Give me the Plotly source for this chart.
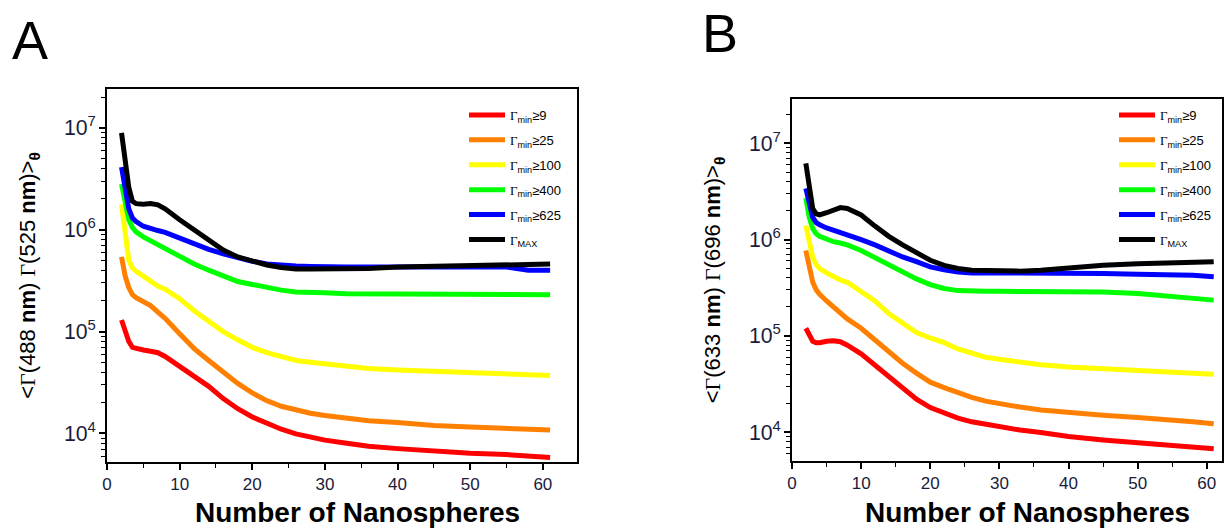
import plotly.graph_objects as go

# Number of nanospheres (common x grid)
N = [2, 2.5, 3, 3.5, 4, 5, 6, 7, 8, 10, 12, 14, 16, 18, 20, 22, 24, 26, 28, 30, 33, 36, 40, 45, 50, 55, 58, 61]

# Panel A: <Γ(488 nm) Γ(525 nm)>_θ
A_min9 = [1.3e5, 1.0e5, 8.0e4, 7.0e4, 6.8e4, 6.6e4, 6.4e4, 6.2e4, 5.7e4, 4.6e4, 3.7e4, 2.9e4, 2.2e4, 1.75e4, 1.45e4, 1.25e4, 1.1e4, 9.9e3, 9.2e3, 8.6e3, 8.0e3, 7.5e3, 7.1e3, 6.7e3, 6.4e3, 6.2e3, 6.0e3, 5.8e3]
A_min25 = [5.4e5, 3.5e5, 2.7e5, 2.3e5, 2.15e5, 1.95e5, 1.8e5, 1.55e5, 1.35e5, 9.5e4, 6.8e4, 5.2e4, 4.0e4, 3.1e4, 2.5e4, 2.1e4, 1.85e4, 1.7e4, 1.58e4, 1.5e4, 1.4e4, 1.33e4, 1.28e4, 1.2e4, 1.16e4, 1.13e4, 1.1e4, 1.08e4]
A_min100 = [1.77e6, 9.0e5, 5.0e5, 4.2e5, 3.9e5, 3.5e5, 3.1e5, 2.8e5, 2.6e5, 2.1e5, 1.6e5, 1.25e5, 1.0e5, 8.3e4, 7.0e4, 6.2e4, 5.6e4, 5.2e4, 5.0e4, 4.8e4, 4.55e4, 4.35e4, 4.2e4, 4.05e4, 3.95e4, 3.85e4, 3.75e4, 3.7e4]
A_min400 = [2.8e6, 1.8e6, 1.25e6, 1.05e6, 9.5e5, 8.5e5, 7.8e5, 7.2e5, 6.5e5, 5.5e5, 4.6e5, 4.0e5, 3.5e5, 3.1e5, 2.9e5, 2.7e5, 2.55e5, 2.45e5, 2.4e5, 2.4e5, 2.35e5, 2.35e5, 2.35e5, 2.35e5, 2.35e5, 2.35e5, 2.3e5, 2.3e5]
A_min625 = [4.1e6, 2.4e6, 1.6e6, 1.3e6, 1.2e6, 1.08e6, 1.02e6, 9.8e5, 9.4e5, 8.2e5, 7.2e5, 6.4e5, 5.8e5, 5.3e5, 4.9e5, 4.6e5, 4.45e5, 4.4e5, 4.35e5, 4.3e5, 4.3e5, 4.3e5, 4.3e5, 4.3e5, 4.3e5, 4.3e5, 4.0e5, 4.0e5]
A_max = [8.9e6, 4.5e6, 2.6e6, 1.9e6, 1.8e6, 1.78e6, 1.8e6, 1.75e6, 1.6e6, 1.25e6, 1.0e6, 8.0e5, 6.3e5, 5.4e5, 4.9e5, 4.5e5, 4.25e5, 4.1e5, 4.1e5, 4.1e5, 4.1e5, 4.15e5, 4.3e5, 4.4e5, 4.45e5, 4.5e5, 4.55e5, 4.6e5]

# Panel B: <Γ(633 nm) Γ(696 nm)>_θ
B_min9 = [1.2e5, 1.0e5, 8.8e4, 8.5e4, 8.5e4, 8.8e4, 8.9e4, 8.7e4, 8.0e4, 6.5e4, 5.0e4, 3.8e4, 2.9e4, 2.2e4, 1.8e4, 1.58e4, 1.4e4, 1.28e4, 1.2e4, 1.13e4, 1.05e4, 9.9e3, 9.0e3, 8.3e3, 7.8e3, 7.3e3, 7.0e3, 6.7e3]
B_min25 = [7.7e5, 5.0e5, 3.6e5, 3.0e5, 2.7e5, 2.3e5, 2.0e5, 1.75e5, 1.5e5, 1.2e5, 9.0e4, 6.8e4, 5.2e4, 4.1e4, 3.3e4, 2.9e4, 2.55e4, 2.3e4, 2.1e4, 1.97e4, 1.82e4, 1.7e4, 1.6e4, 1.5e4, 1.42e4, 1.35e4, 1.28e4, 1.22e4]
B_min100 = [1.4e6, 9.0e5, 6.5e5, 5.5e5, 5.0e5, 4.5e5, 4.1e5, 3.8e5, 3.6e5, 2.9e5, 2.3e5, 1.7e5, 1.35e5, 1.08e5, 9.5e4, 8.5e4, 7.3e4, 6.6e4, 6.0e4, 5.7e4, 5.3e4, 5.0e4, 4.75e4, 4.55e4, 4.4e4, 4.25e4, 4.1e4, 4.0e4]
B_min400 = [2.7e6, 1.7e6, 1.3e6, 1.15e6, 1.08e6, 1.0e6, 9.5e5, 9.2e5, 8.8e5, 7.7e5, 6.5e5, 5.4e5, 4.5e5, 3.9e5, 3.4e5, 3.1e5, 2.95e5, 2.9e5, 2.9e5, 2.9e5, 2.9e5, 2.9e5, 2.9e5, 2.85e5, 2.75e5, 2.55e5, 2.45e5, 2.35e5]
B_min625 = [3.4e6, 2.3e6, 1.7e6, 1.5e6, 1.42e6, 1.32e6, 1.25e6, 1.18e6, 1.13e6, 1.0e6, 8.8e5, 7.6e5, 6.6e5, 5.9e5, 5.2e5, 4.85e5, 4.6e5, 4.5e5, 4.5e5, 4.5e5, 4.5e5, 4.5e5, 4.5e5, 4.45e5, 4.35e5, 4.3e5, 4.25e5, 4.1e5]
B_max = [6.2e6, 3.5e6, 2.1e6, 1.85e6, 1.8e6, 1.9e6, 2.05e6, 2.15e6, 2.1e6, 1.8e6, 1.38e6, 1.08e6, 8.8e5, 7.3e5, 6.1e5, 5.4e5, 5.0e5, 4.8e5, 4.75e5, 4.7e5, 4.7e5, 4.8e5, 5.1e5, 5.4e5, 5.6e5, 5.8e5, 5.9e5, 5.9e5]

GAM = "<span style='font-family:Liberation Serif'>Γ</span>"
SERIES_NAMES = [GAM + "<sub>min</sub>≥9", GAM + "<sub>min</sub>≥25", GAM + "<sub>min</sub>≥100",
                GAM + "<sub>min</sub>≥400", GAM + "<sub>min</sub>≥625", GAM + "<sub>MAX</sub>"]
COLORS = ["#ff0000", "#ff8000", "#ffff00", "#00ff00", "#0000ff", "#000000"]

A_SERIES = [A_min9, A_min25, A_min100, A_min400, A_min625, A_max]
B_SERIES = [B_min9, B_min25, B_min100, B_min400, B_min625, B_max]

W, H = 1229, 528

def px(sx):
    return sx / W

def py(sy):
    return 1 - sy / H

fig = go.Figure()

for i, (name, col) in enumerate(zip(SERIES_NAMES, COLORS)):
    fig.add_trace(go.Scatter(x=N, y=A_SERIES[i], mode="lines", name=name,
                             line=dict(color=col, width=5), xaxis="x", yaxis="y",
                             legend="legend", legendgroup="a%d" % i))
for i, (name, col) in enumerate(zip(SERIES_NAMES, COLORS)):
    fig.add_trace(go.Scatter(x=N, y=B_SERIES[i], mode="lines", name=name,
                             line=dict(color=col, width=5), xaxis="x2", yaxis="y2",
                             legend="legend2", legendgroup="b%d" % i))

tickfont = dict(family="Arial", size=17, color="#1b1b3a")

def xaxis_def(domain, rng, anchor):
    return dict(domain=domain, range=rng, anchor=anchor, dtick=10, tick0=0,
                automargin=False,
                ticks="outside", ticklen=6, tickwidth=1.5, tickcolor="black",
                minor=dict(dtick=5, ticks="outside", ticklen=4, tickwidth=1.2, tickcolor="black"),
                showline=True, linecolor="black", linewidth=1.5, mirror=True,
                showgrid=False, zeroline=False, tickfont=tickfont)

def yaxis_def(domain, rng, anchor, title):
    return dict(domain=domain, type="log", range=rng, anchor=anchor,
                automargin=False,
                dtick=1, exponentformat="power", showexponent="all",
                ticks="outside", ticklen=6, tickwidth=1.5, tickcolor="black",
                minor=dict(dtick="D1", ticks="outside", ticklen=4, tickwidth=1.2, tickcolor="black"),
                showline=True, linecolor="black", linewidth=1.5, mirror=True,
                showgrid=False, zeroline=False, tickfont=tickfont,
                title=dict(text=title, font=dict(family="Arial", size=22, color="black"), standoff=22))

titleA = "&lt;" + GAM + "(488 <b>nm</b>) " + GAM + "(525 <b>nm</b>)&gt;<sub><b>θ</b></sub>"
titleB = "&lt;" + GAM + "(633 <b>nm</b>) " + GAM + "(696 <b>nm</b>)&gt;<sub><b>θ</b></sub>"
XTITLE = "<b>Number of Nanospheres</b>"

legend_style = dict(font=dict(family="Arial", size=13, color="black"), bgcolor="rgba(0,0,0,0)",
                    borderwidth=0, tracegroupgap=5, itemwidth=36, yanchor="top", xanchor="left")

def label(text, sx, sy, size, family="Arial"):
    return dict(text=text, x=px(sx), y=py(sy), xref="paper", yref="paper", showarrow=False,
                xanchor="center", yanchor="middle",
                font=dict(family=family, size=size, color="black"))

fig.update_layout(
    width=W, height=H,
    margin=dict(l=0, r=0, t=0, b=0, autoexpand=False),
    paper_bgcolor="white", plot_bgcolor="white",
    xaxis=xaxis_def([px(107), px(577)], [0, 64.7], "y"),
    yaxis=yaxis_def([py(462), py(89)], [3.72, 7.38], "x", titleA),
    xaxis2=xaxis_def([px(792), px(1222)], [0, 62.2], "y2"),
    yaxis2=yaxis_def([py(461), py(99)], [3.70, 7.46], "x2", titleB),
    legend=dict(x=px(464), y=py(100), **legend_style),
    legend2=dict(x=px(1114), y=py(100), **legend_style),
    annotations=[
        label("A", 30, 40, 54, "Liberation Sans"),
        label("B", 720, 33, 54, "Liberation Sans"),
        label(XTITLE, 357, 512, 28),
        label(XTITLE, 1027, 512, 28),
    ],
)

# Remove the default page margin so the figure fills the 1229x528 window exactly.
fig.write_html("out.html", config={"displayModeBar": False},
               post_script="document.body.style.margin='0';")
